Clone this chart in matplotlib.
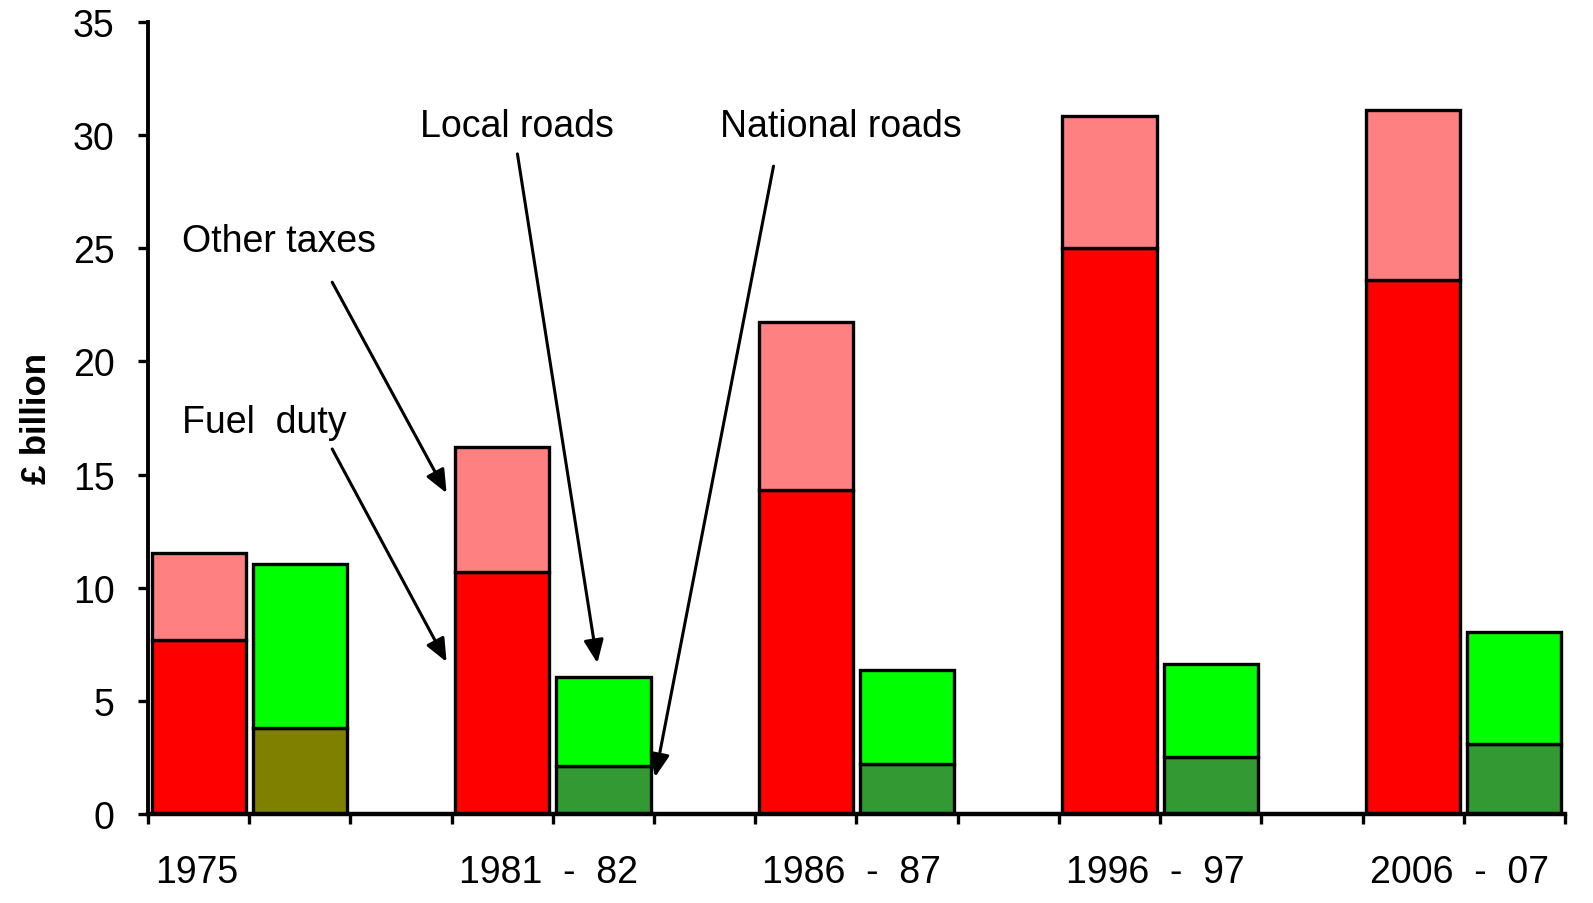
import matplotlib
matplotlib.use("Agg")
import matplotlib.pyplot as plt
import matplotlib.transforms as mtransforms

plt.rcParams['font.family'] = ['Liberation Sans', 'DejaVu Sans']

categories = ['1975', '1981  -  82', '1986  -  87', '1996  -  97', '2006  -  07']
fuel_duty = [7.7, 10.7, 14.3, 25.0, 23.6]
other_taxes = [3.85, 5.5, 7.45, 5.85, 7.5]
national_roads = [3.8, 2.1, 2.2, 2.5, 3.1]
local_roads = [7.25, 3.95, 4.15, 4.15, 4.95]
national_colors = ['#808000', '#339933', '#339933', '#339933', '#339933']

fig = plt.figure(figsize=(15.93, 9.04), dpi=100)
ax = fig.add_axes([148/1593, 1-815/904, (1565-148)/1593, (815-23)/904])

w = 0.93
lw = 2.4
for i in range(len(categories)):
    xr = 3*i + 0.5
    xg = 3*i + 1.5
    ax.bar(xr, fuel_duty[i], width=w, color='#FF0000', edgecolor='black', linewidth=lw, zorder=3)
    ax.bar(xr, other_taxes[i], bottom=fuel_duty[i], width=w, color='#FF8080', edgecolor='black', linewidth=lw, zorder=3)
    ax.bar(xg, national_roads[i], width=w, color=national_colors[i], edgecolor='black', linewidth=lw, zorder=3)
    ax.bar(xg, local_roads[i], bottom=national_roads[i], width=w, color='#00FF00', edgecolor='black', linewidth=lw, zorder=3)

ax.set_xlim(0, 14)
ax.set_ylim(0, 35)
ax.set_yticks(range(0, 36, 5))
ax.set_xticks(range(0, 15))
ax.set_xticklabels([])
ax.tick_params(axis='y', direction='out', length=7, width=2.4, labelsize=27, pad=17)
ax.tick_params(axis='x', direction='out', length=7, width=2.4)
for s in ['top', 'right']:
    ax.spines[s].set_visible(False)
ax.spines['left'].set_linewidth(2.8)
ax.spines['bottom'].set_linewidth(3.2)
ax.spines['bottom'].set_zorder(4)

ax.set_ylabel('£ billion', fontsize=25, fontweight='bold', labelpad=14)

trans = mtransforms.blended_transform_factory(ax.transData, ax.transAxes)
for i, c in enumerate(categories):
    ax.text(3*i + 0.07, -0.073, c, transform=trans, ha='left', va='center', fontsize=27)

arrowprops = dict(arrowstyle='-|>,head_length=1.4,head_width=0.6', color='black', lw=2.2, shrinkA=0, shrinkB=0)
ax.text(0.336, 25.3, 'Other taxes', fontsize=27, ha='left', va='center')
ax.annotate('', xy=(2.95, 14.18), xytext=(1.82, 23.5), arrowprops=arrowprops)
ax.text(0.336, 17.32, 'Fuel  duty', fontsize=27, ha='left', va='center')
ax.annotate('', xy=(2.95, 6.72), xytext=(1.82, 16.13), arrowprops=arrowprops)
ax.text(2.69, 30.4, 'Local roads', fontsize=27, ha='left', va='center')
ax.annotate('', xy=(4.44, 6.67), xytext=(3.65, 29.17), arrowprops=arrowprops)
ax.text(5.65, 30.4, 'National roads', fontsize=27, ha='left', va='center')
ax.annotate('', xy=(5.01, 1.63), xytext=(6.18, 28.63), arrowprops=arrowprops)

fig.savefig('out.png', dpi=100)
